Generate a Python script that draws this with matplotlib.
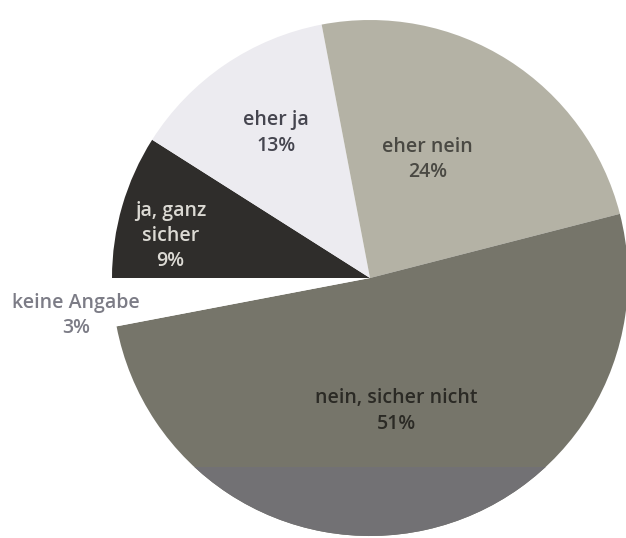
import numpy as np
import matplotlib.pyplot as plt
from matplotlib.patches import Rectangle

labels = ["ja, ganz\nsicher", "eher ja", "eher nein", "nein, sicher nicht", "keine Angabe"]
shares = [9, 13, 24, 51, 3]

colors = ["#2f2d2b", "#ecebf0", "#b4b2a5", "#76756a", "#ffffff"]
text_colors = ["#dcdad4", "#45454f", "#4a4943", "#2b2a25", "#7c7c86"]
# radial distance (fraction of radius) and angular nudge of each label
label_r = [0.79, 0.67, 0.51, 0.525, 1.15]
label_shift = [4.3, -1.2, 6.6, -1.5, 1.9]

W, H = 626, 538
cx, cy, R = 370, H - 278, 258

fig = plt.figure(figsize=(W / 100, H / 100), dpi=100)
ax = fig.add_axes([0, 0, 1, 1])
ax.set_xlim(0, W)
ax.set_ylim(0, H)
ax.set_aspect("equal")
ax.axis("off")

wedges, _ = ax.pie(shares, colors=colors, startangle=180, counterclock=False,
                   center=(cx, cy), radius=R, frame=True,
                   wedgeprops=dict(linewidth=0))
ax.set_xlim(0, W)
ax.set_ylim(0, H)
ax.axis("off")

# darker print band across the lower part of the big slice
band = Rectangle((177, 0), 383, H - 467, color="#727174", linewidth=0, zorder=3)
ax.add_patch(band)
band.set_clip_path(wedges[3])

for w, lab, val, tc, r, sh in zip(wedges, labels, shares, text_colors, label_r, label_shift):
    mid = np.deg2rad((w.theta1 + w.theta2) / 2 + sh)
    x = cx + r * R * np.cos(mid)
    y = cy + r * R * np.sin(mid)
    ax.text(x, y, f"{lab}\n{val}%", ha="center", va="center", color=tc,
            fontsize=14, family="Open Sans", weight="semibold",
            linespacing=1.35, zorder=5)

fig.savefig("out.png", dpi=100, facecolor="white")
